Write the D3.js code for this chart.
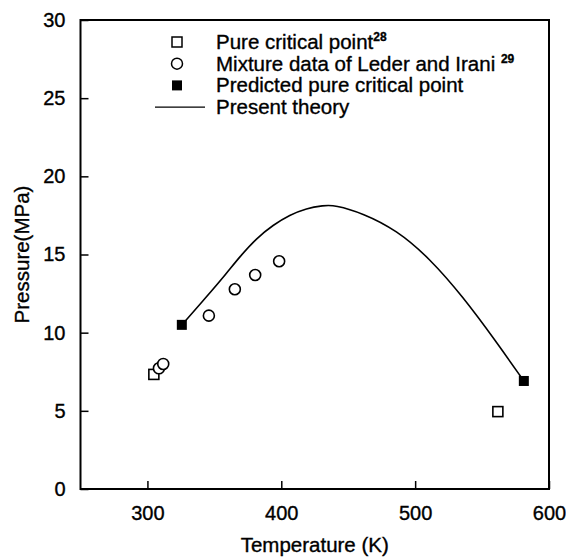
<!DOCTYPE html>
<html><head><meta charset="utf-8">
<script src="https://cdn.jsdelivr.net/npm/d3@7"></script>
<style>body{margin:0;background:#fff}svg{display:block}text{font-family:"Liberation Sans",Arial,sans-serif;fill:#000;stroke:#000;stroke-width:0.35px}</style>
</head><body><svg id="c" width="566" height="558"></svg>
<script>
// Data
const pureT = [304.8, 561.8];
const pureP = [7.33, 4.95];
const mixT = [308.6, 311.8, 345.9, 365.3, 380.5, 398.4];
const mixP = [7.72, 8.0, 11.09, 12.78, 13.69, 14.57];
const predT = [325.7, 581.2];
const predP = [10.5, 6.91];
const theoryT = [325.7, 344.2, 359.1, 369.0, 381.5, 393.9, 406.3, 418.8, 431.2, 440.0, 461.0, 486.0, 510.8, 535.7, 560.6, 581.2];
const theoryP = [10.5, 12.30, 13.80, 14.86, 16.04, 16.89, 17.53, 17.96, 18.13, 18.17, 17.64, 16.57, 14.76, 12.30, 9.42, 6.91];
const xTicks = [300, 400, 500, 600];
const yTicks = [0, 5, 10, 15, 20, 25, 30];
const legendLabels = ["Pure critical point", "Mixture data of Leder and Irani ", "Predicted pure critical point", "Present theory"];
const legendSups = ["28", "29", "", ""];

const svg = d3.select("#c");
const L = 80.5, R = 549, T = 20, B = 489;
const x = d3.scaleLinear().domain([250, 600]).range([L, R]);
const y = d3.scaleLinear().domain([0, 30]).range([B, T]);
const FS = 20;

// frame
svg.append("rect").attr("x", L).attr("y", T).attr("width", R - L).attr("height", B - T)
  .attr("fill", "none").attr("stroke", "#000").attr("stroke-width", 2);

// axes
const xAxis = svg.append("g").attr("transform", `translate(0,${B})`)
  .call(d3.axisBottom(x).tickValues(xTicks).tickSize(-8).tickPadding(17).tickFormat(d3.format("d")));
const yAxis = svg.append("g").attr("transform", `translate(${L},0)`)
  .call(d3.axisLeft(y).tickValues(yTicks).tickSize(-8).tickPadding(15).tickFormat(d3.format("d")));
[xAxis, yAxis].forEach(g => {
  g.select(".domain").remove();
  g.selectAll("line").attr("stroke", "#000").attr("stroke-width", 1.5);
  g.selectAll("text").attr("font-size", FS).attr("font-family", "Liberation Sans, Arial, sans-serif").attr("fill", "#000");
});

// axis titles
svg.append("text").attr("x", (L + R) / 2).attr("y", 552).attr("text-anchor", "middle")
  .attr("font-size", 20.5).text("Temperature (K)");
svg.append("text").attr("transform", `translate(29,${(T + B) / 2}) rotate(-90)`).attr("text-anchor", "middle")
  .attr("font-size", 20.5).text("Pressure(MPa)");

// theory curve
const line = d3.line().x(d => x(d[0])).y(d => y(d[1])).curve(d3.curveBasis);
svg.append("path").datum(theoryT.map((t, i) => [t, theoryP[i]]))
  .attr("d", line).attr("fill", "none").attr("stroke", "#000").attr("stroke-width", 1.6);

const S = 10;
// pure critical points (open squares)
svg.selectAll(".pure").data(pureT.map((t, i) => [t, pureP[i]])).enter().append("rect")
  .attr("x", d => x(d[0]) - S / 2).attr("y", d => y(d[1]) - S / 2).attr("width", S).attr("height", S)
  .attr("fill", "#fff").attr("stroke", "#000").attr("stroke-width", 1.6);
// mixture circles
svg.selectAll(".mix").data(mixT.map((t, i) => [t, mixP[i]])).enter().append("circle")
  .attr("cx", d => x(d[0])).attr("cy", d => y(d[1])).attr("r", 5.5)
  .attr("fill", "#fff").attr("stroke", "#000").attr("stroke-width", 1.6);
// predicted filled squares
svg.selectAll(".pred").data(predT.map((t, i) => [t, predP[i]])).enter().append("rect")
  .attr("x", d => x(d[0]) - S / 2).attr("y", d => y(d[1]) - S / 2).attr("width", S).attr("height", S)
  .attr("fill", "#000");

// legend
const lx = 177, tx = 216, ly0 = 42, dy = 21.7;
const lg = svg.append("g");
legendLabels.forEach((lab, i) => {
  const cy = ly0 + i * dy;
  if (i === 0) lg.append("rect").attr("x", lx - 5).attr("y", cy - 5).attr("width", 10).attr("height", 10).attr("fill", "none").attr("stroke", "#000").attr("stroke-width", 1.5);
  if (i === 1) lg.append("circle").attr("cx", lx).attr("cy", cy).attr("r", 5.5).attr("fill", "none").attr("stroke", "#000").attr("stroke-width", 1.5);
  if (i === 2) lg.append("rect").attr("x", lx - 5).attr("y", cy - 5).attr("width", 10).attr("height", 10).attr("fill", "#000");
  if (i === 3) lg.append("line").attr("x1", 155).attr("x2", 205).attr("y1", cy).attr("y2", cy).attr("stroke", "#000").attr("stroke-width", 1.3);
  const t = lg.append("text").attr("x", tx).attr("y", cy + 7).attr("font-size", 20.5);
  t.append("tspan").text(lab);
  if (legendSups[i]) t.append("tspan").attr("dy", -8).attr("font-size", 12).attr("font-weight", "bold").text(legendSups[i]);
});
</script></body></html>
